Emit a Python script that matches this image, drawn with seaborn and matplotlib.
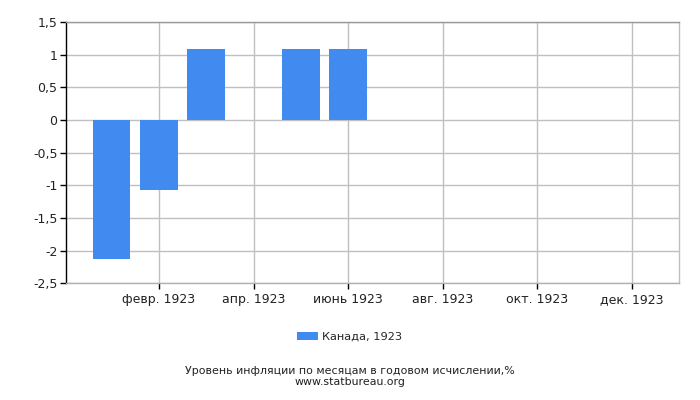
import numpy as np
import pandas as pd
import matplotlib
matplotlib.use("Agg")
import matplotlib.pyplot as plt
import seaborn as sns

# =============================
# Data
# =============================
months = ["янв. 1923", "февр. 1923", "март 1923", "апр. 1923", "май 1923", "июнь 1923",
          "июль 1923", "авг. 1923", "сент. 1923", "окт. 1923", "нояб. 1923", "дек. 1923"]
inflation = [-2.13, -1.07, 1.09, np.nan, 1.09, 1.09,
             np.nan, np.nan, np.nan, np.nan, np.nan, np.nan]
y_ticks = [-2.5, -2, -1.5, -1, -0.5, 0, 0.5, 1, 1.5]
y_labels = ["-2,5", "-2", "-1,5", "-1", "-0,5", "0", "0,5", "1", "1,5"]

df = pd.DataFrame({"Month": months, "Value": inflation})

# =============================
# Plot
# =============================
sns.set_style("white", {"xtick.bottom": True, "ytick.left": True})
plt.rcParams["font.family"] = ["DejaVu Sans"]

fig = plt.figure(figsize=(7, 4), dpi=100)
ax = fig.add_axes([0.094, 0.292, 0.876, 0.653])

sns.barplot(data=df, x="Month", y="Value", color="#418bf0", width=0.8,
            saturation=1, linewidth=0, ax=ax, zorder=3, label="Канада, 1923")

ax.set_xlim(-0.967, 11.99)
ax.set_ylim(-2.5, 1.5)
ax.set_yticks(y_ticks)
ax.set_yticklabels(y_labels)
shown = [1, 3, 5, 7, 9, 11]
ax.set_xticks(shown)
ax.set_xticklabels([months[i] for i in shown])
ax.set_xlabel("")
ax.set_ylabel("")

ax.grid(True, color="#c0c0c0", linewidth=1, zorder=0)
ax.set_axisbelow(True)
ax.tick_params(axis="both", labelsize=9, length=4, width=1, color="#000000",
               labelcolor="#222222", direction="out", bottom=True, left=True)
ax.tick_params(axis="x", pad=3)
ax.tick_params(axis="y", pad=2)
ax.spines["left"].set_color("#000000")
ax.spines["bottom"].set_color("#b0b0b0")
ax.spines["top"].set_color("#999999")
ax.spines["right"].set_color("#c0c0c0")
for side in ax.spines:
    ax.spines[side].set_linewidth(1)

ax.legend(loc="center", bbox_to_anchor=(0.462, -0.205), frameon=False, fontsize=8.2,
          handlelength=1.9, handleheight=0.8, handletextpad=0.3)

fig.text(0.5, 0.073, "Уровень инфляции по месяцам в годовом исчислении,%",
         ha="center", va="center", fontsize=7.9, color="#222222")
fig.text(0.5, 0.046, "www.statbureau.org", ha="center", va="center",
         fontsize=7.9, color="#222222")

fig.savefig("out.png", dpi=100)
